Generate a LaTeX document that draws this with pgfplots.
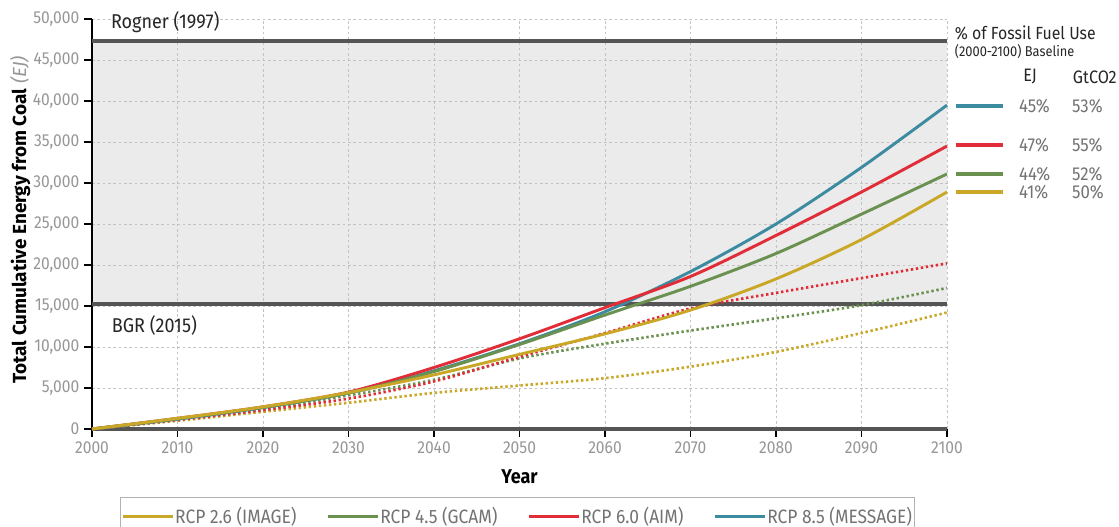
\documentclass[border=0pt]{standalone}
\usepackage{pgfplots}
\usepackage{pgfplotstable}
\pgfplotsset{compat=1.18}
\usepackage{fontspec}
\setmainfont{Fira Sans}[FakeStretch=0.9]
\newfontfamily\widefont{Fira Sans}
\definecolor{cYel}{RGB}{201,168,40}
\definecolor{cGrn}{RGB}{106,145,80}
\definecolor{cRed}{RGB}{224,45,55}
\definecolor{cBlu}{RGB}{61,139,160}
\definecolor{band}{RGB}{235,235,235}
\definecolor{refline}{RGB}{85,85,85}
\definecolor{tickgray}{RGB}{150,150,150}
\definecolor{gridgray}{RGB}{195,195,195}
\definecolor{txtgray}{RGB}{115,115,115}

\pgfplotstableread{
year blue red green yellow redd greend yellowd
2000 0 0 0 0 0 0 0
2010 1200 1300 1250 1300 1100 1150 1000
2020 2600 2700 2650 2700 2300 2400 2100
2030 4400 4500 4400 4450 3700 4100 3200
2040 7100 7500 7000 6600 5800 6000 4400
2050 10400 11000 10300 9100 8800 8600 5300
2060 14300 14800 13900 11600 11700 10400 6200
2070 19200 18600 17400 14500 14700 12000 7600
2080 25000 23600 21400 18300 16600 13500 9400
2090 31900 28900 26200 23100 18400 15100 11700
2100 39500 34500 31100 28900 20200 17200 14200
}\data

\begin{document}
\begin{tikzpicture}
\begin{axis}[
  set layers=standard,
  scale only axis, width=641.25pt, height=307.5pt,
  xmin=2000, xmax=2100, ymin=0, ymax=50000,
  xtick={2000,2010,...,2100}, ytick={0,5000,...,50000},
  scaled y ticks=false,
  axis x line*=bottom, axis y line*=left,
  x axis line style={draw=refline, line width=3pt},
  y axis line style={draw=black, line width=1.5pt},
  tick align=outside,
  major tick length=6pt,
  tick style={black, line width=1pt},
  grid=major,
  major grid style={gridgray, dash pattern=on 2pt off 2pt, line width=0.6pt},
  clip=false,
  /pgf/number format/assume math mode=true,
  yticklabel style={/pgf/number format/1000 sep={,}},
  xticklabel style={/pgf/number format/1000 sep={}},
  ticklabel style={font=\fontsize{13}{15}\selectfont, text=tickgray},
  ylabel={\textbf{Total Cumulative Energy from Coal} \textcolor{tickgray}{\itshape (EJ)}},
  ylabel style={at={(axis description cs:-0.084,0.51)}, anchor=center, font=\widefont\fontsize{14.2}{16}\selectfont},
  xlabel={\textbf{Year}},
  xlabel style={at={(axis description cs:0.5,-0.117)}, anchor=center, font=\fontsize{15}{17}\selectfont},
  legend columns=4,
  legend style={at={(axis description cs:0.4977,-0.166)}, anchor=north,
    draw=gray!60, line width=0.8pt, font=\fontsize{14.5}{16}\selectfont, text=txtgray,
    inner ysep=5pt, inner xsep=1pt,
    nodes={inner xsep=0.8pt},
    /tikz/every even column/.append style={column sep=22pt}},
  legend image code/.code={\draw[#1, line width=2.2pt] (0pt,0pt) -- (37pt,0pt);},
]
% grey band
\addplot[fill=band, draw=none, on layer=axis background, forget plot]
  coordinates {(2000,15250) (2100,15250) (2100,47350) (2000,47350) (2000,15250)};
\addplot[refline, line width=3pt, forget plot] coordinates {(2000,47350) (2100,47350)};
\addplot[refline, line width=3pt, forget plot] coordinates {(2000,15250) (2100,15250)};

% dotted series
\addplot[cYel, smooth, line width=2pt, dash pattern=on 1.8pt off 2pt, forget plot] table[x=year, y=yellowd] {\data};
\addplot[cGrn, smooth, line width=2pt, dash pattern=on 1.8pt off 2pt, forget plot] table[x=year, y=greend] {\data};
\addplot[cRed, smooth, line width=2pt, dash pattern=on 1.8pt off 2pt, forget plot] table[x=year, y=redd] {\data};

% solid series
\addplot[cBlu, smooth, line width=2.2pt, forget plot] table[x=year, y=blue] {\data};
\addplot[cRed, smooth, line width=2.2pt, forget plot] table[x=year, y=red] {\data};
\addplot[cGrn, smooth, line width=2.2pt, forget plot] table[x=year, y=green] {\data};
\addplot[cYel, smooth, line width=2.2pt, forget plot] table[x=year, y=yellow] {\data};

% legend entries
\addlegendimage{cYel}\addlegendentry{RCP 2.6 (IMAGE)}
\addlegendimage{cGrn}\addlegendentry{RCP 4.5 (GCAM)}
\addlegendimage{cRed}\addlegendentry{RCP 6.0 (AIM)}
\addlegendimage{cBlu}\addlegendentry{RCP 8.5 (MESSAGE)}

% labels in plot
\node[anchor=west, inner sep=0pt, font=\fontsize{15}{17}\selectfont, text=black!85] at (axis cs:2002.2,49634) {Rogner (1997)};
\node[anchor=west, inner sep=0pt, font=\fontsize{15}{17}\selectfont, text=black!85] at (axis cs:2002.3,12561) {BGR (2015)};

% right side table
\node[anchor=west, inner sep=0pt, font=\fontsize{13.2}{15}\selectfont, text=black!85] at (axis cs:2100.9,48293) {\% of Fossil Fuel Use};
\node[anchor=west, inner sep=0pt, font=\fontsize{10.7}{12}\selectfont, text=black!85] at (axis cs:2100.9,45976) {(2000-2100) Baseline};
\node[anchor=west, inner sep=0pt, font=\fontsize{13.5}{15}\selectfont, text=black!85] at (axis cs:2108.9,42927) {EJ};
\node[anchor=west, inner sep=0pt, font=\fontsize{13.5}{15}\selectfont, text=black!85] at (axis cs:2114.7,42927) {GtCO2};

\addplot[cBlu, line width=2.4pt, forget plot] coordinates {(2101.05,39390) (2106.55,39390)};
\addplot[cRed, line width=2.4pt, forget plot] coordinates {(2101.05,34634) (2106.55,34634)};
\addplot[cGrn, line width=2.4pt, forget plot] coordinates {(2101.05,31098) (2106.55,31098)};
\addplot[cYel, line width=2.4pt, forget plot] coordinates {(2101.05,28902) (2106.55,28902)};

\node[anchor=west, inner sep=0pt, font=\fontsize{14}{16}\selectfont, text=txtgray] at (axis cs:2108.4,39390) {45\%};
\node[anchor=west, inner sep=0pt, font=\fontsize{14}{16}\selectfont, text=txtgray] at (axis cs:2114.6,39390) {53\%};
\node[anchor=west, inner sep=0pt, font=\fontsize{14}{16}\selectfont, text=txtgray] at (axis cs:2108.4,34634) {47\%};
\node[anchor=west, inner sep=0pt, font=\fontsize{14}{16}\selectfont, text=txtgray] at (axis cs:2114.6,34634) {55\%};
\node[anchor=west, inner sep=0pt, font=\fontsize{14}{16}\selectfont, text=txtgray] at (axis cs:2108.4,31098) {44\%};
\node[anchor=west, inner sep=0pt, font=\fontsize{14}{16}\selectfont, text=txtgray] at (axis cs:2114.6,31098) {52\%};
\node[anchor=west, inner sep=0pt, font=\fontsize{14}{16}\selectfont, text=txtgray] at (axis cs:2108.4,28902) {41\%};
\node[anchor=west, inner sep=0pt, font=\fontsize{14}{16}\selectfont, text=txtgray] at (axis cs:2114.6,28902) {50\%};

\coordinate (tl) at (axis cs:1989.24,52317);
\coordinate (br) at (axis cs:2120.12,-11951);
\end{axis}
\pgfresetboundingbox
\path[use as bounding box] (tl) rectangle (br);
\end{tikzpicture}
\end{document}
